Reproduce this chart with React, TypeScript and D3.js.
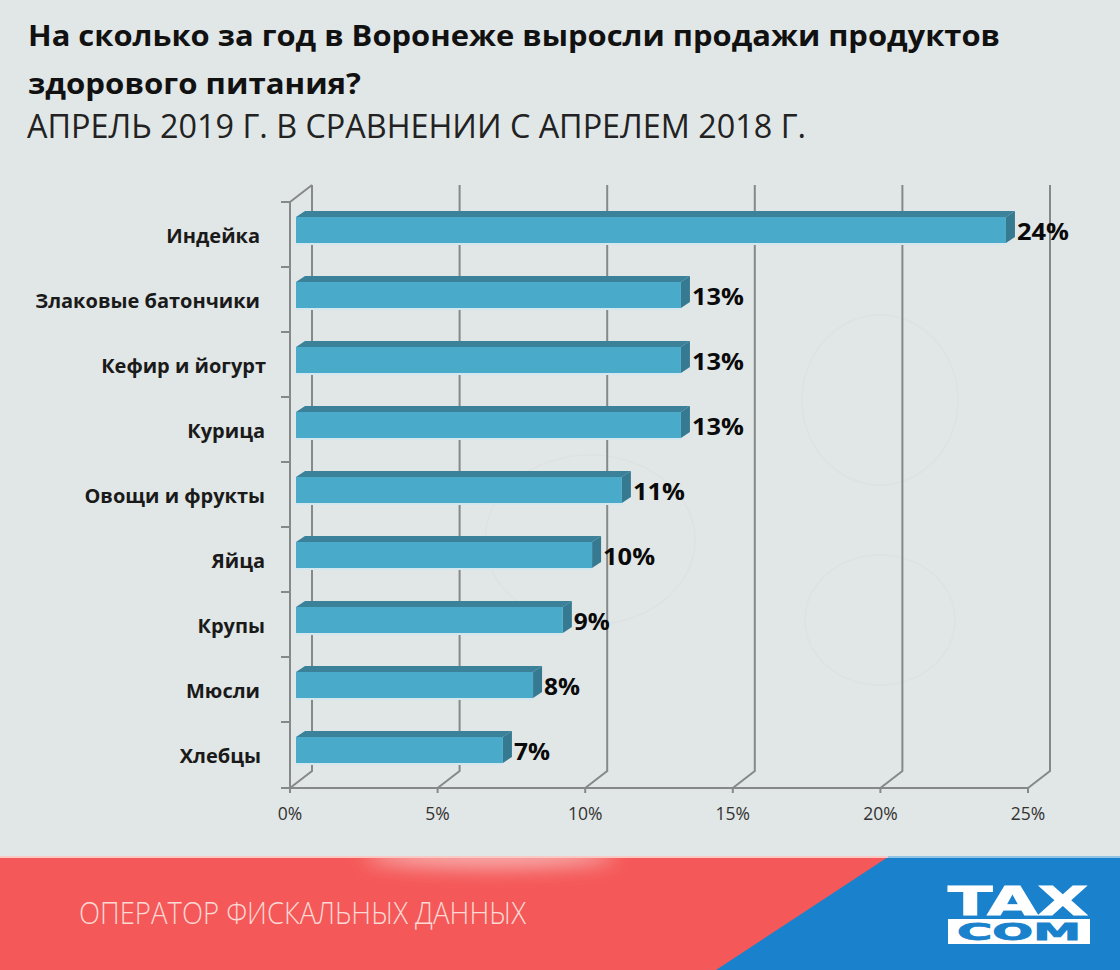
import React from "react";
import * as d3 from "d3";

const categories = ["Индейка", "Злаковые батончики", "Кефир и йогурт", "Курица", "Овощи и фрукты", "Яйца", "Крупы", "Мюсли", "Хлебцы"];
const values = [24.05, 13.04, 13.04, 13.04, 11.04, 10.03, 9.04, 8.03, 7.01];
const valueLabels = ["24%", "13%", "13%", "13%", "11%", "10%", "9%", "8%", "7%"];
const labelEnds = [260, 260, 266, 265, 265, 265, 265, 260, 261];
const xTicks = [0, 5, 10, 15, 20, 25];
const titleLines = ["На сколько за год в Воронеже выросли продажи продуктов", "здорового питания?"];
const subtitle = "АПРЕЛЬ 2019 Г. В СРАВНЕНИИ С АПРЕЛЕМ 2018 Г.";
const footerText = "ОПЕРАТОР ФИСКАЛЬНЫХ ДАННЫХ";

const FONT = "'Open Sans', 'Noto Sans', sans-serif";
const GRID = "#858989";
const DX = 22, DY = 17;
const BDX = 9, BDY = 6;

export default function App() {
  const x = d3.scaleLinear().domain([0, 25]).range([290, 1028]);
  const barX = (v: number) => 296 + (x(v) - x(0));
  const y = d3.scaleBand<string>().domain(categories).range([202, 787]);
  const top = 185, bottom = 788;
  return (
    <svg width={1120} height={970} viewBox="0 0 1120 970" style={{ position: "absolute", left: 0, top: 0, display: "block" }}>
      <defs>
        <filter id="blur" x="-30%" y="-150%" width="160%" height="400%"><feGaussianBlur stdDeviation="10" /></filter>
        <clipPath id="footerClip"><rect x={0} y={858} width={1120} height={112} /></clipPath>
      </defs>
      <rect width={1120} height={970} fill="#e1e6e6" />
      {/* faint watermark */}
      <g fill="none" stroke="#dde2e2" strokeWidth={1.5}>
        <ellipse cx={880} cy={400} rx={78} ry={85} />
        <ellipse cx={880} cy={620} rx={75} ry={65} />
        <ellipse cx={590} cy={540} rx={105} ry={85} />
      </g>

      {/* title */}
      <text x={28} y={46} fontFamily={FONT} fontWeight={700} fontSize={29} fill="#111" textLength={972} lengthAdjust="spacingAndGlyphs">{titleLines[0]}</text>
      <text x={28} y={94} fontFamily={FONT} fontWeight={700} fontSize={29} fill="#111" textLength={333} lengthAdjust="spacingAndGlyphs">{titleLines[1]}</text>
      <text x={27} y={138} fontFamily={FONT} fontWeight={400} fontSize={32} fill="#222" textLength={779} lengthAdjust="spacingAndGlyphs">{subtitle}</text>

      {/* walls */}
      <g stroke={GRID} strokeWidth={2} fill="none">
        {xTicks.map((t) => (
          <path key={t} d={`M${x(t)},${bottom}L${x(t) + DX},${bottom - DY}V${top}`} />
        ))}
        <path d={`M${x(0)},${top + DY}L${x(0) + DX},${top}`} />
        <path d={`M${x(0)},${top + DY}V${bottom + 5}`} />
        <path d={`M281,${bottom}H${x(25)}`} />
        {categories.map((c) => (
          <path key={c} d={`M281,${y(c)}H${x(0)}`} />
        ))}
        {xTicks.map((t) => (
          <path key={t} d={`M${x(t)},${bottom}v5`} />
        ))}
      </g>

      {/* bars */}
      {categories.map((c, i) => {
        const y0 = (y(c) as number) + 15;
        const h = 26;
        const x0 = 296;
        const x1 = barX(values[i]);
        return (
          <g key={c}>
            <rect x={x0} y={y0 + h} width={x1 - x0} height={2} fill="#d5e7ee" />
            <path d={`M${x0},${y0}L${x0 + BDX},${y0 - BDY}H${x1 + BDX}L${x1},${y0}Z`} fill="#3a8199" />
            <path d={`M${x1},${y0}L${x1 + BDX},${y0 - BDY}V${y0 + h - BDY}L${x1},${y0 + h}Z`} fill="#367a92" />
            <rect x={x0} y={y0} width={x1 - x0} height={h} fill="#49abc9" />
            <text x={x1 + 11} y={y0 + 23} fontFamily={FONT} fontWeight={700} fontSize={23} fill="#0a0a0a" textLength={valueLabels[i].length === 3 ? 52 : 36} lengthAdjust="spacingAndGlyphs">{valueLabels[i]}</text>
            <text x={labelEnds[i]} y={y0 + 26} textAnchor="end" fontFamily={FONT} fontWeight={700} fontSize={20} fill="#1a1a1a">{c}</text>
          </g>
        );
      })}

      {/* x labels */}
      {xTicks.map((t) => (
        <text key={t} x={x(t)} y={820} textAnchor="middle" fontFamily={FONT} fontSize={17.5} fill="#333">{`${t}%`}</text>
      ))}

      {/* footer */}
      <rect x={0} y={857} width={1120} height={113} fill="#f55858" />
      <path d="M888,857H1120V970H716Z" fill="#1a82cc" />
      <rect x={0} y={856} width={888} height={2} fill="#f9c9c5" />
      <rect x={888} y={856} width={232} height={2} fill="#8fc4e6" />
      <g clipPath="url(#footerClip)">
        <ellipse cx={490} cy={856} rx={125} ry={11} fill="#f7d8d6" opacity={0.75} filter="url(#blur)" />
      </g>
      <text x={79} y={924} fontFamily={FONT} fontSize={31} fontWeight={300} fill="#fbd9d4" textLength={447} lengthAdjust="spacingAndGlyphs">{footerText}</text>

      {/* logo */}
      <text x={948} y={915} fontFamily="'DejaVu Sans', sans-serif" fontWeight={700} fontSize={39} fill="#fff" stroke="#fff" strokeWidth={1} textLength={140} lengthAdjust="spacingAndGlyphs">TAX</text>
      <rect x={948} y={919} width={142} height={25} fill="#fff" />
      <text x={957} y={940} fontFamily="'DejaVu Sans', sans-serif" fontWeight={700} fontSize={23} fill="#1a82cc" stroke="#1a82cc" strokeWidth={0.8} textLength={124} lengthAdjust="spacingAndGlyphs">COM</text>
    </svg>
  );
}
